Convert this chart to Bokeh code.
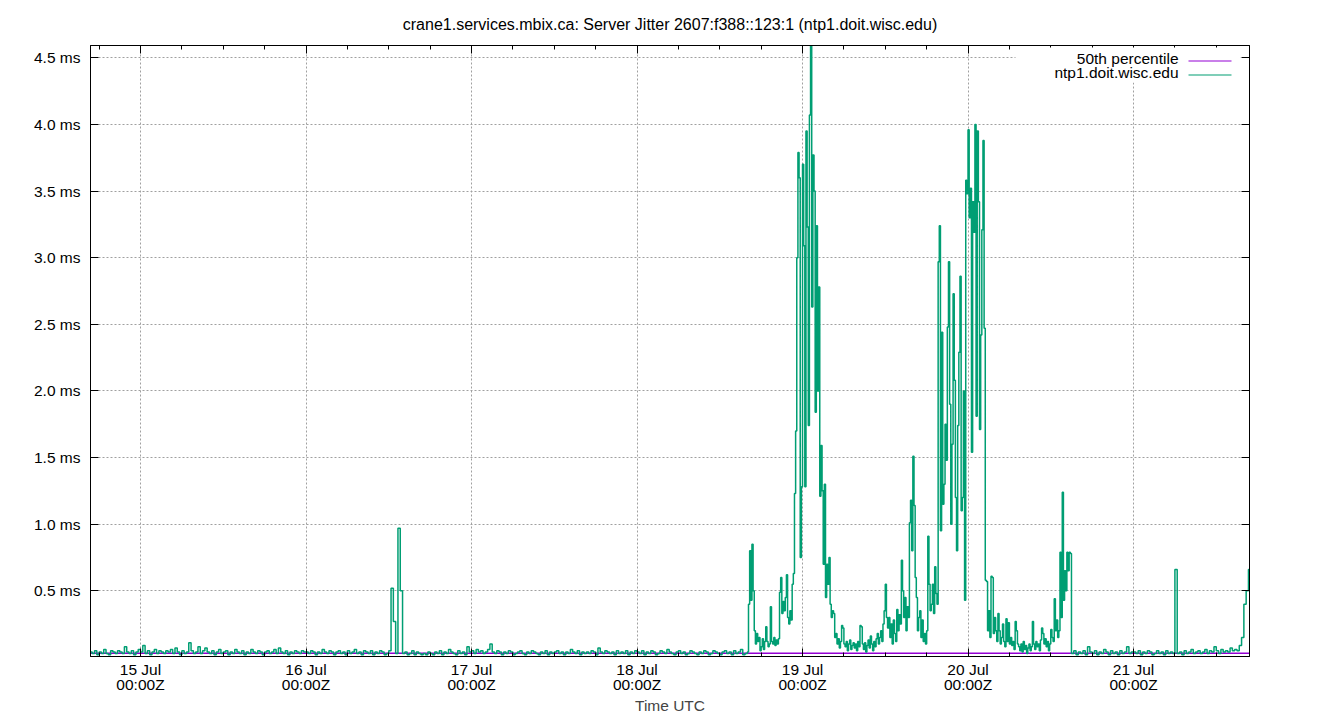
import datetime as dt
from bokeh.plotting import figure
from bokeh.models import (FixedTicker, DatetimeTickFormatter, PrintfTickFormatter,
                          CustomJSTickFormatter, DatetimeAxis, LinearAxis, Label,
                          BoxAnnotation, Range1d)
from bokeh.embed import file_html
from bokeh.resources import INLINE

YEAR = 2024
TITLE = "crane1.services.mbix.ca: Server Jitter 2607:f388::123:1 (ntp1.doit.wisc.edu)"
SERIES_NAMES = ["50th percentile", "ntp1.doit.wisc.edu"]
COLORS = ["#9400d3", "#009e73"]

# jitter in ms
percentile_50 = 0.032

# 20-minute samples
jitter_jul14 = [0.04,0.03,0.05,0.02,0.04,0.03,0.06,0.03,0.02,0.05,0.04,0.03,0.05,0.04,0.03,0.08,0.04,0.03,0.05,0.02,0.04,0.06]
jitter_jul15 = [0.04,0.09,0.03,0.05,0.02,0.04,0.06,0.03,0.05,0.04,
                0.03,0.05,0.04,0.06,0.03,0.07,0.04,0.02,0.05,0.03,
                0.04,0.11,0.05,0.03,0.04,0.08,0.03,0.05,0.07,0.04,
                0.03,0.05,0.02,0.04,0.06,0.03,0.04,0.05,0.02,0.04,
                0.03,0.06,0.04,0.03,0.05,0.02,0.04,0.03,0.06,0.04,
                0.03,0.05,0.04,0.02,0.04,0.05,0.03,0.04,0.06,0.03,
                0.07,0.04,0.03,0.05,0.02,0.04,0.03,0.05,0.04,0.03,
                0.05,0.04]
jitter_jul16 = [0.04,0.03,0.05,0.04,0.02,0.04,0.03,0.06,0.04,0.03,
                0.05,0.04,0.02,0.04,0.05,0.03,0.04,0.02,0.05,0.03,
                0.04,0.06,0.03,0.04,0.02,0.05,0.04,0.03,0.05,0.02,
                0.04,0.03,0.05,0.04,0.02,0.03,0.05,0.52,0.27,0.03,
                0.97,0.50,0.03,0.04,0.02,0.03,0.05,0.02,0.04,0.03,
                0.02,0.03,0.02,0.04,0.03,0.02,0.04,0.03,0.05,0.02,
                0.04,0.03,0.06,0.04,0.03,0.02,0.05,0.03,0.04,0.02,
                0.08,0.04]
jitter_jul17 = [0.05,0.03,0.06,0.04,0.05,0.03,0.04,0.06,0.10,0.04,
                0.03,0.05,0.04,0.02,0.04,0.03,0.05,0.04,0.02,0.03,
                0.04,0.05,0.03,0.02,0.04,0.03,0.05,0.04,0.03,0.02,
                0.04,0.03,0.05,0.02,0.04,0.03,0.04,0.05,0.03,0.04,
                0.02,0.04,0.03,0.06,0.04,0.03,0.05,0.02,0.04,0.03,
                0.04,0.03,0.05,0.04,0.02,0.07,0.04,0.03,0.05,0.04,
                0.03,0.04,0.02,0.05,0.03,0.04,0.03,0.05,0.02,0.04,
                0.03,0.05]
jitter_jul18a = [0.04,0.03,0.05,0.02,0.04,0.03,0.05,0.04,0.02,0.03,
                 0.05,0.04,0.03,0.06,0.04,0.03,0.02,0.04,0.05,0.03,
                 0.04,0.02,0.03,0.05,0.04,0.03,0.02,0.04,0.03,0.05,
                 0.04,0.02,0.03,0.05,0.04,0.03,0.02,0.04,0.05,0.03,
                 0.04,0.02,0.05,0.03,0.04,0.06,0.02,0.03]
# 10-minute samples
jitter_jul18b = [0.04,0.40,0.80,0.43,0.85,0.50,0.20,0.10,0.18,0.12,
                 0.15,0.05,0.08,0.14,0.06,0.12,0.23,0.12,0.08,0.10,
                 0.38,0.12,0.10,0.15,0.09,0.13,0.10,0.14,0.49,0.60,
                 0.33,0.42,0.35,0.45,0.62,0.30,0.25,0.35,0.28,0.55,
                 0.63,1.23,1.70,3.00,3.79,3.60,0.75,1.28]
jitter_jul19 = [3.70,3.09,1.28,3.95,3.23,1.74,4.07,4.59,2.63,3.77,
                3.50,1.84,3.24,2.00,2.78,1.21,1.59,1.25,0.70,1.30,
                0.45,0.70,0.55,0.75,0.40,0.30,0.35,0.33,0.15,0.18,
                0.10,0.14,0.07,0.12,0.24,0.22,0.10,0.08,0.12,0.05,
                0.10,0.13,0.06,0.09,0.11,0.07,0.10,0.05,0.12,0.08,
                0.24,0.23,0.10,0.06,0.11,0.04,0.09,0.13,0.07,0.16,
                0.10,0.05,0.12,0.08,0.14,0.18,0.10,0.15,0.20,0.12,
                0.25,0.35,0.55,0.30,0.22,0.30,0.15,0.25,0.10,0.28,
                0.18,0.12,0.36,0.20,0.32,0.25,0.73,0.50,0.30,0.45,
                0.20,0.38,0.30,1.01,1.18,0.80,1.51,1.14,0.60,0.45,
                0.20,0.30,0.35,0.15,0.28,0.12,0.18,0.10,0.20,0.91,
                0.55,0.35,0.40,0.55,0.33,0.68,0.48,0.40,2.97,3.24,
                0.95,2.44,1.15,1.30,1.75,1.48,2.48,2.97,1.90,1.00,
                1.60,2.73,2.08,1.20,0.80,1.74,2.29,2.86,1.10,1.20,
                2.00,0.43,3.58,3.48]
jitter_jul20a = [3.96,3.30,3.52,1.54,3.42,3.19,4.00,1.81,3.95,3.42,
                 1.71,2.42,3.21,3.88,2.47,0.58,0.57,0.20,0.35,0.15,
                 0.61,0.60,0.18,0.30,0.20,0.12,0.33,0.20,0.10,0.15,
                 0.25,0.12,0.08,0.29,0.12,0.26,0.10,0.15,0.09,0.12,
                 0.06,0.27,0.20,0.10,0.08,0.05,0.10,0.04,0.12,0.06,
                 0.09,0.03,0.07,0.10,0.05,0.08,0.27,0.10,0.06,0.12,
                 0.08,0.10,0.05,0.13,0.22,0.18,0.10,0.14,0.08,0.12,
                 0.05,0.10,0.21,0.15,0.12,0.44,0.20,0.28,0.15,0.20,
                 0.79,0.30,1.24,0.43,0.65,0.50,0.79,0.65,0.79,0.78]
# 20-minute samples
jitter_jul20b = [0.03,0.05,0.02,0.04,0.03,0.05,0.02,0.08,0.04,0.03,
                 0.05,0.02,0.04,0.03,0.06,0.04,0.02,0.05,0.03,0.04,
                 0.02,0.05,0.03,0.04,0.08,0.03,0.04]
jitter_jul21 = [0.04,0.03,0.05,0.02,0.04,0.03,0.05,0.04,0.02,0.03,
                0.05,0.03,0.04,0.02,0.05,0.03,0.04,0.03,0.66,0.03,
                0.04,0.02,0.05,0.03,0.04,0.06,0.03,0.04,0.05,0.03,
                0.04,0.06,0.03,0.05,0.04,0.08,0.05,0.03,0.06,0.04,
                0.05,0.04,0.07,0.05,0.06,0.05,0.09,0.15,0.40,0.50,
                0.66,0.20]

tick_days = [15, 16, 17, 18, 19, 20, 21]
y_ticks = [0.5, 1.0, 1.5, 2.0, 2.5, 3.0, 3.5, 4.0, 4.5]


def t(day, h=0, m=0):
    return dt.datetime(YEAR, 7, day, h, m)


EPOCH = dt.datetime(1970, 1, 1)


def ms(d):
    return (d - EPOCH).total_seconds() * 1000.0


segments = [
    (t(14, 16, 40), 20, jitter_jul14),
    (t(15), 20, jitter_jul15),
    (t(16), 20, jitter_jul16),
    (t(17), 20, jitter_jul17),
    (t(18), 20, jitter_jul18a),
    (t(18, 16), 10, jitter_jul18b),
    (t(19), 10, jitter_jul19),
    (t(20), 10, jitter_jul20a),
    (t(20, 15), 20, jitter_jul20b),
    (t(21), 20, jitter_jul21),
]
xs, ys = [], []
for start, step, vals in segments:
    for i, v in enumerate(vals):
        xs.append(start + dt.timedelta(minutes=step * i))
        ys.append(v)

FONT = "Liberation Sans"
FS = "15.5px"

p = figure(width=1340, height=720, x_axis_type="datetime",
           output_backend="svg", toolbar_location=None,
           x_range=Range1d(t(14, 16, 45), t(21, 16, 49)),
           y_range=Range1d(0.007, 4.592),
           min_border_left=90, min_border_right=91,
           min_border_top=45, min_border_bottom=64)
p.background_fill_color = "white"
p.border_fill_color = "white"
p.outline_line_color = "black"
p.outline_line_width = 1

p.title.text = TITLE
p.title.align = "center"
p.title.text_font = FONT
p.title.text_font_style = "normal"
p.title.text_font_size = "16px"
p.title.text_color = "black"
p.title.standoff = p.title.standoff + 15

x_major = [ms(t(d)) for d in tick_days]
x_minor = [ms(t(14, 18) + dt.timedelta(hours=6 * i)) for i in range(28)]
xticker = FixedTicker(ticks=x_major, minor_ticks=x_minor)
yticker = FixedTicker(ticks=y_ticks, minor_ticks=[])
fmt = "%d %b\n%H:%MZ"
xfmt = DatetimeTickFormatter(microseconds=fmt, milliseconds=fmt, seconds=fmt, minsec=fmt,
                             minutes=fmt, hourmin=fmt, hours=fmt, days=fmt,
                             months=fmt, years=fmt)

xa = p.xaxis[0]
xa.ticker = xticker
xa.formatter = xfmt
xa.axis_label = "Time UTC"
xa.axis_label_text_font = FONT
xa.axis_label_text_font_style = "normal"
xa.axis_label_text_font_size = FS
xa.axis_label_standoff = 1
xa.major_label_standoff = 4
xa.major_label_text_line_height = 0.9

ya = p.yaxis[0]
ya.ticker = yticker
ya.formatter = PrintfTickFormatter(format="%.1f ms")
ya.major_label_standoff = 10

for ax in (xa, ya):
    ax.axis_line_color = "black"
    ax.major_tick_line_color = "black"
    ax.minor_tick_line_color = "black"
    ax.major_tick_in = 8
    ax.major_tick_out = 0
    ax.minor_tick_in = 4
    ax.minor_tick_out = 0
    ax.major_label_text_font = FONT
    ax.major_label_text_font_size = FS
    ax.major_label_text_color = "black"

blank = CustomJSTickFormatter(code="return '';")
top = DatetimeAxis(ticker=xticker, formatter=blank,
                   axis_line_color="black", major_tick_in=8, major_tick_out=0,
                   minor_tick_in=4, minor_tick_out=0, major_label_standoff=0)
right = LinearAxis(ticker=yticker, formatter=blank,
                   axis_line_color="black", major_tick_in=8, major_tick_out=0,
                   minor_tick_line_color=None, major_label_standoff=0)
p.add_layout(top, "above")
p.add_layout(right, "right")

p.xgrid.ticker = xticker
p.ygrid.ticker = yticker
for g in (p.xgrid[0], p.ygrid[0]):
    g.grid_line_color = "#a0a0a0"
    g.grid_line_dash = "2 2"
    g.grid_line_width = 1

# series
p.line([xs[0], xs[-1]], [percentile_50, percentile_50], line_color=COLORS[0], line_width=1.5)
p.step(xs, ys, mode="after", line_color=COLORS[1], line_width=1.5)

# legend (gnuplot style: text then line sample), positioned in frame pixels
p.add_layout(BoxAnnotation(left=925, right=1150, bottom=574, top=609,
                           left_units="screen", right_units="screen",
                           bottom_units="screen", top_units="screen",
                           fill_color="white", fill_alpha=1.0, line_alpha=0))
for i, (name, col) in enumerate(zip(SERIES_NAMES, COLORS)):
    yc = 596 - 14 * i
    p.add_layout(BoxAnnotation(left=1098, right=1141, bottom=yc - 1, top=yc,
                               left_units="screen", right_units="screen",
                               bottom_units="screen", top_units="screen",
                               fill_color=col, fill_alpha=1.0, line_alpha=0))
    p.add_layout(Label(x=1088, y=yc + 2, x_units="screen", y_units="screen",
                       text=name, text_align="right", text_baseline="middle",
                       text_font=FONT, text_font_size=FS, text_color="black"))

open("out.html", "w").write(file_html(p, INLINE))
